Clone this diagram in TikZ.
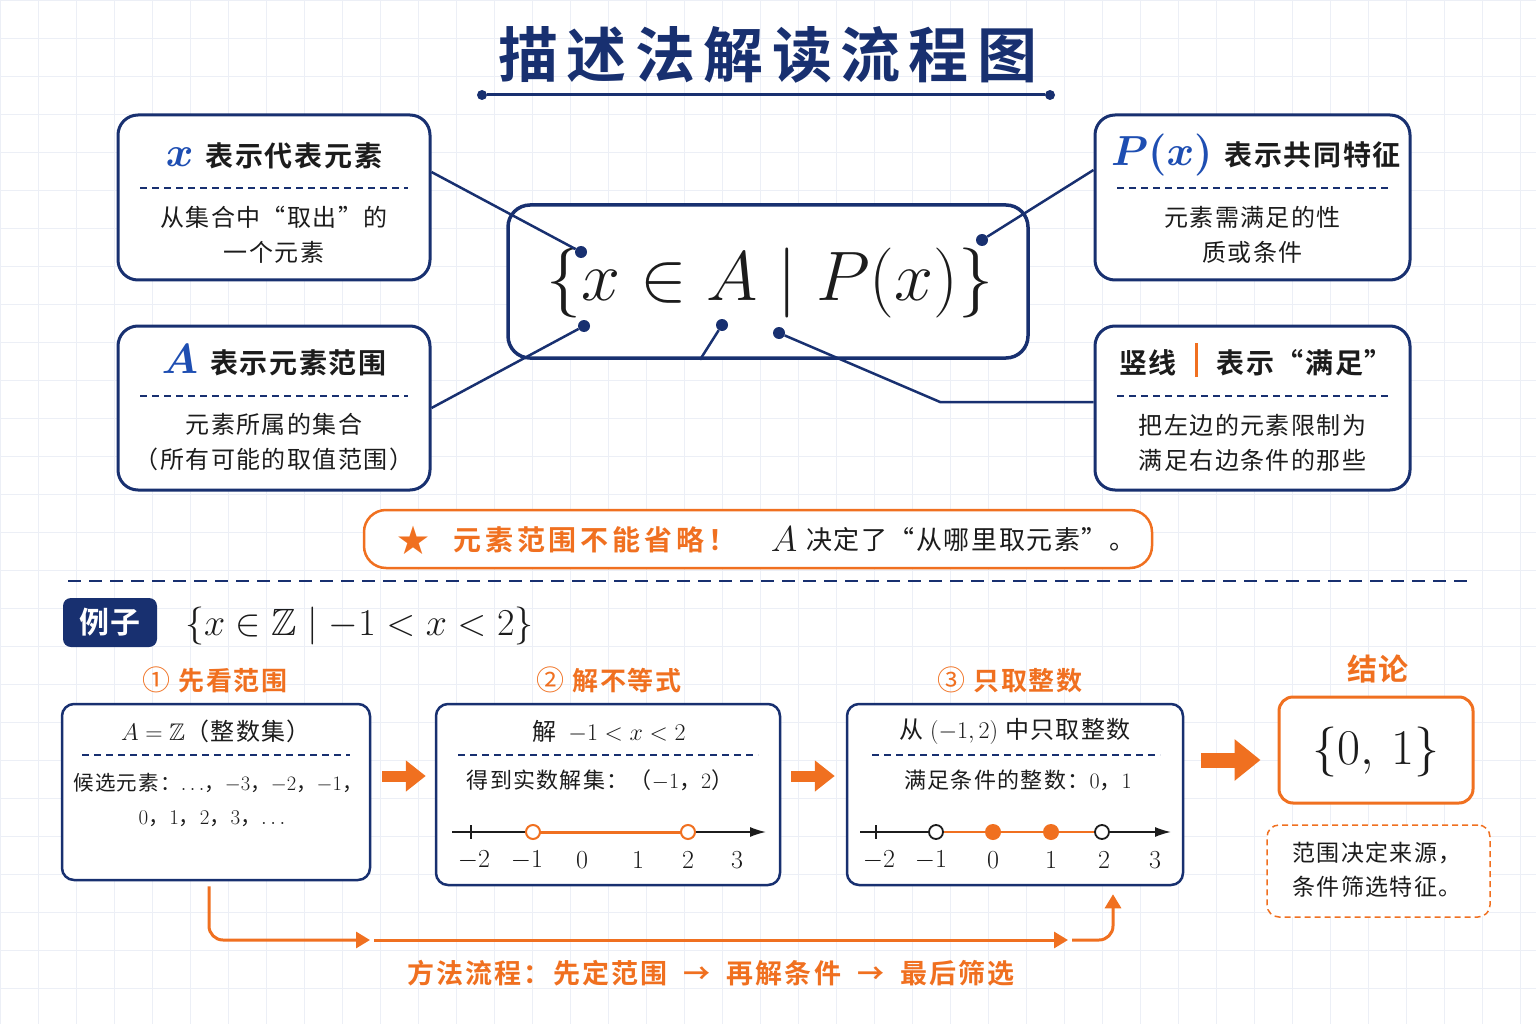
\RequirePackage{fix-cm}
\documentclass[tikz,border=0pt]{standalone}
\usepackage{amsmath,amssymb,bm}
\usepackage[no-math]{fontspec}
\setmainfont{Noto Sans CJK SC}[BoldFont={Noto Sans CJK SC Bold},LetterSpace=6]
\usetikzlibrary{calc,arrows.meta}

\definecolor{navy}{RGB}{24,48,112}
\definecolor{mblue}{RGB}{30,78,178}
\definecolor{orng}{RGB}{240,112,32}
\definecolor{ink}{RGB}{28,28,28}
\definecolor{gridc}{RGB}{236,239,246}

\newcommand{\setfs}[1]{\fontsize{#1}{#1}\selectfont}
\newcommand{\mathletter}[1]{{\color{mblue}\setfs{42}$\bm{#1}$}}

\begin{document}
\begin{tikzpicture}[x=1pt, y=-1pt,
    every node/.append style={inner sep=0pt},
    gridlines/.style={gridc, line width=0.8pt},
    infobox/.style={draw=navy, line width=3pt, rounded corners=20pt, fill=white},
    mainbox/.style={draw=navy, line width=3.5pt, rounded corners=22pt, fill=white},
    stepbox/.style={draw=navy, line width=2.5pt, rounded corners=12pt, fill=white},
    resultbox/.style={draw=orng, line width=3pt, rounded corners=14pt, fill=white},
    notebox/.style={draw=orng, line width=1.5pt, dash pattern=on 6pt off 4pt, rounded corners=12pt, fill=white},
    warnbox/.style={draw=orng, line width=2.5pt, rounded corners=22pt, fill=white},
    tagbox/.style={fill=navy, rounded corners=8pt, text=white, font=\setfs{30}\bfseries},
    headtext/.style={anchor=base, text=ink, font=\setfs{28}\bfseries},
    bodytext/.style={align=center, text=ink, font=\fontsize{24}{35}\selectfont},
    sepline/.style={navy, line width=1.5pt, dash pattern=on 7pt off 5pt},
    linkline/.style={navy, line width=2.5pt},
    linkdot/.style={circle, fill=navy, minimum size=12pt},
    ruledot/.style={circle, fill=navy, minimum size=10pt},
    steplabel/.style={text=orng, font=\setfs{26}\bfseries},
    numline/.style={ink, line width=1.6pt, -{Latex[length=16pt,width=10pt]}},
    numlab/.style={text=ink, font=\setfs{26}},
    blockarrow/.style={orng, line width=11pt, -{Triangle[length=20pt,width=30pt]}},
    flowline/.style={orng, line width=3pt, rounded corners=14pt, -{Triangle[length=14pt,width=16pt]}}
  ]
    % Background and grid
    \fill[white] (0,0) rectangle (1536,1024);
    \useasboundingbox (0,0) rectangle (1536,1024);
    \foreach \gx in {0,38,...,1536} \draw[gridlines] (\gx,0) -- (\gx,1024);
    \foreach \gy in {0,38,...,1024} \draw[gridlines] (0,\gy) -- (1536,\gy);

    % Title
    \node[text=navy, font=\setfs{60}\bfseries\addfontfeature{LetterSpace=14}] (title) at (768,55) {描述法解读流程图};
    \node[ruledot] (ulL) at (482,95) {};
    \node[ruledot] (ulR) at (1050,95) {};
    \draw[navy, line width=3pt] (ulL) -- (ulR);

    % Four explanation boxes
    \node[infobox, minimum width=312pt, minimum height=165pt] (xbox) at (274,197.5) {};
    \node[headtext] (xhead) at (274,167) {\mathletter{x}\hspace{12pt}表示代表元素};
    \draw[sepline] (140,188) -- (408,188);
    \node[bodytext] (xbody) at (274,234.5) {从集合中“取出”的\\一个元素};

    \node[infobox, minimum width=312pt, minimum height=164pt] (abox) at (274,408) {};
    \node[headtext] (ahead) at (274,373) {\mathletter{A}\hspace{12pt}表示元素范围};
    \draw[sepline] (140,396) -- (408,396);
    \node[bodytext] (abody) at (274,442.5) {元素所属的集合\\（所有可能的取值范围）};

    \node[infobox, minimum width=315pt, minimum height=165pt] (pbox) at (1252.5,197.5) {};
    \node[headtext] (phead) at (1256,166) {\mathletter{P(x)}\hspace{12pt}表示共同特征};
    \draw[sepline] (1117,188) -- (1389,188);
    \node[bodytext] (pbody) at (1252.5,234.5) {元素需满足的性\\质或条件};

    \node[infobox, minimum width=315pt, minimum height=164pt] (barbox) at (1252.5,408) {};
    \node[headtext] (barhead) at (1256,373) {竖线\hspace{18pt}{\color{orng}\rule[-4pt]{3.5pt}{34pt}}\hspace{18pt}表示“满足”};
    \draw[sepline] (1117,396) -- (1389,396);
    \node[bodytext] (barbody) at (1252.5,442.5) {把左边的元素限制为\\满足右边条件的那些};

    % Central set notation
    \node[mainbox, minimum width=520pt, minimum height=153pt] (setbox) at (768,281.5) {};
    \node[font=\setfs{70}, text=ink] (setexpr) at (770,283) {$\{x\in A\mid P(x)\}$};

    % Pointer dots and links
    \node[linkdot] (d1) at (581,252) {};
    \node[linkdot] (d2) at (584,326) {};
    \node[linkdot] (d3) at (722,325) {};
    \node[linkdot] (d4) at (779,333) {};
    \node[linkdot] (d5) at (982,240) {};
    \coordinate (bend) at (940,402);
    \draw[linkline] ($(xbox.east)+(0,-25.5)$) -- (d1);
    \draw[linkline] (abox.east) -- (d2);
    \draw[linkline] (d3) -- ($(setbox.south)+(-68,0)$);
    \draw[linkline] (d4) -- (bend) -- ($(barbox.west)+(0,-6)$);
    \draw[linkline] (d5) -- ($(pbox.west)+(0,-27.5)$);

    % Warning note
    \node[warnbox, minimum width=788pt, minimum height=58pt] (warn) at (758,539) {};
    \node[text=orng, font=\setfs{32}] (star) at (413,540) {★};
    \node[anchor=west, text=orng, font=\setfs{28}\bfseries\addfontfeature{LetterSpace=14}] (warnA) at (453,540) {元素范围不能省略！};
    \node[text=ink, font=\setfs{36}] (warnB) at (784,539) {$A$};
    \node[anchor=west, text=ink, font=\setfs{26}] (warnC) at (806,540) {决定了“从哪里取元素”。};

    % Separator
    \draw[navy, line width=2pt, dash pattern=on 13pt off 8pt] (68,581) -- (1468,581);

    % Example
    \node[tagbox, minimum width=94pt, minimum height=49pt] (tag) at (110,622.5) {例子};
    \node[anchor=west, font=\setfs{38}, text=ink] (exset) at (185,626) {$\{x\in\mathbb{Z}\mid -1<x<2\}$};

    \node[steplabel] (lab1) at (215,680) {{\mdseries\setfs{28}①}\hspace{8pt}先看范围};
    \node[steplabel] (lab2) at (609,680) {{\mdseries\setfs{28}②}\hspace{8pt}解不等式};
    \node[steplabel] (lab3) at (1010,680) {{\mdseries\setfs{28}③}\hspace{8pt}只取整数};
    \node[steplabel, font=\setfs{30}\bfseries] (lab4) at (1378,669) {结论};

    % Step 1
    \node[stepbox, minimum width=308pt, minimum height=176pt] (stepone) at (216,792) {};
    \node[text=ink, font=\setfs{24}] (onehead) at (216,731) {$A=\mathbb{Z}$（整数集）};
    \draw[sepline] (82,755) -- (350,755);
    \node[text=ink, font=\setfs{20.5}] (onebodyA) at (218,783) {候选元素：$\ldots$，$-3$，$-2$，$-1$，};
    \node[text=ink, font=\setfs{21}] (onebodyB) at (212,819) {$0$，$1$，$2$，$3$，$\ldots$};

    % Step 2
    \node[stepbox, minimum width=344pt, minimum height=181pt] (steptwo) at (608,794.5) {};
    \node[text=ink, font=\setfs{24}] (twohead) at (609,731) {解\hspace{12pt}$-1<x<2$};
    \draw[sepline] (458,755) -- (758,755);
    \node[text=ink, font=\setfs{22}] (twobody) at (600,780) {得到实数解集：（$-1$，$2$）};
    \draw[numline] (452,832) -- (766,832);
    \draw[ink, line width=1.6pt] (471,825) -- (471,839);
    \draw[orng, line width=3pt] (533,832) -- (688,832);
    \draw[orng, line width=2pt, fill=white] (533,832) circle (7pt);
    \draw[orng, line width=2pt, fill=white] (688,832) circle (7pt);
    \node[numlab] at (474,860) {$-2$};
    \node[numlab] at (527,860) {$-1$};
    \node[numlab] at (582,860) {$0$};
    \node[numlab] at (638,860) {$1$};
    \node[numlab] at (688,860) {$2$};
    \node[numlab] at (737,860) {$3$};

    % Step 3
    \node[stepbox, minimum width=336pt, minimum height=181pt] (stepthree) at (1015,794.5) {};
    \node[text=ink, font=\setfs{24}] (threehead) at (1015,731) {从 $(-1,2)$ 中只取整数};
    \draw[sepline] (872,755) -- (1160,755);
    \node[text=ink, font=\setfs{22}] (threebody) at (1018,780) {满足条件的整数：$0$，$1$};
    \draw[numline] (860,832) -- (1171,832);
    \draw[ink, line width=1.6pt] (876,825) -- (876,839);
    \draw[orng, line width=2pt] (936,832) -- (1102,832);
    \draw[ink, line width=1.8pt, fill=white] (936,832) circle (7pt);
    \draw[ink, line width=1.8pt, fill=white] (1102,832) circle (7pt);
    \fill[orng] (993,832) circle (8pt);
    \fill[orng] (1051,832) circle (8pt);
    \node[numlab] at (879,860) {$-2$};
    \node[numlab] at (931,860) {$-1$};
    \node[numlab] at (993,860) {$0$};
    \node[numlab] at (1051,860) {$1$};
    \node[numlab] at (1104,860) {$2$};
    \node[numlab] at (1155,860) {$3$};

    % Conclusion
    \node[resultbox, minimum width=194pt, minimum height=106pt] (result) at (1376,750) {};
    \node[font=\setfs{50}, text=ink] (resval) at (1376,752) {$\{0,\,1\}$};
    \node[notebox, minimum width=223pt, minimum height=92pt] (note) at (1378.5,871) {};
    \node[bodytext, font=\fontsize{23}{34}\selectfont] (notetext) at (1377,870) {范围决定来源，\\条件筛选特征。};

    % Block arrows between steps
    \draw[blockarrow] ($(stepone.east)+(11,-16)$) -- ($(steptwo.west)+(-9,-18.5)$);
    \draw[blockarrow] ($(steptwo.east)+(10,-18.5)$) -- ($(stepthree.west)+(-11,-18.5)$);
    \draw[blockarrow, line width=15pt, -{Triangle[length=26pt,width=40pt]}] ($(stepthree.east)+(17,-34.5)$) -- ($(result.west)+(-17,10)$);

    % Method flow
    \coordinate (flowA) at (370,940);
    \coordinate (flowB) at (374,940);
    \coordinate (flowC) at (1068,940);
    \coordinate (flowD) at (1072,940);
    \draw[flowline] ($(stepone.south)+(-7,5)$) |- (flowA);
    \draw[flowline] (flowB) -- (flowC);
    \draw[flowline] (flowD) -| ($(stepthree.south)+(98,8)$);
    \node[steplabel, font=\setfs{27}\bfseries\addfontfeature{LetterSpace=8}] (flowtext) at (711,973) {方法流程：先定范围\hspace{16pt}→\hspace{16pt}再解条件\hspace{16pt}→\hspace{16pt}最后筛选};
\end{tikzpicture}
\end{document}
